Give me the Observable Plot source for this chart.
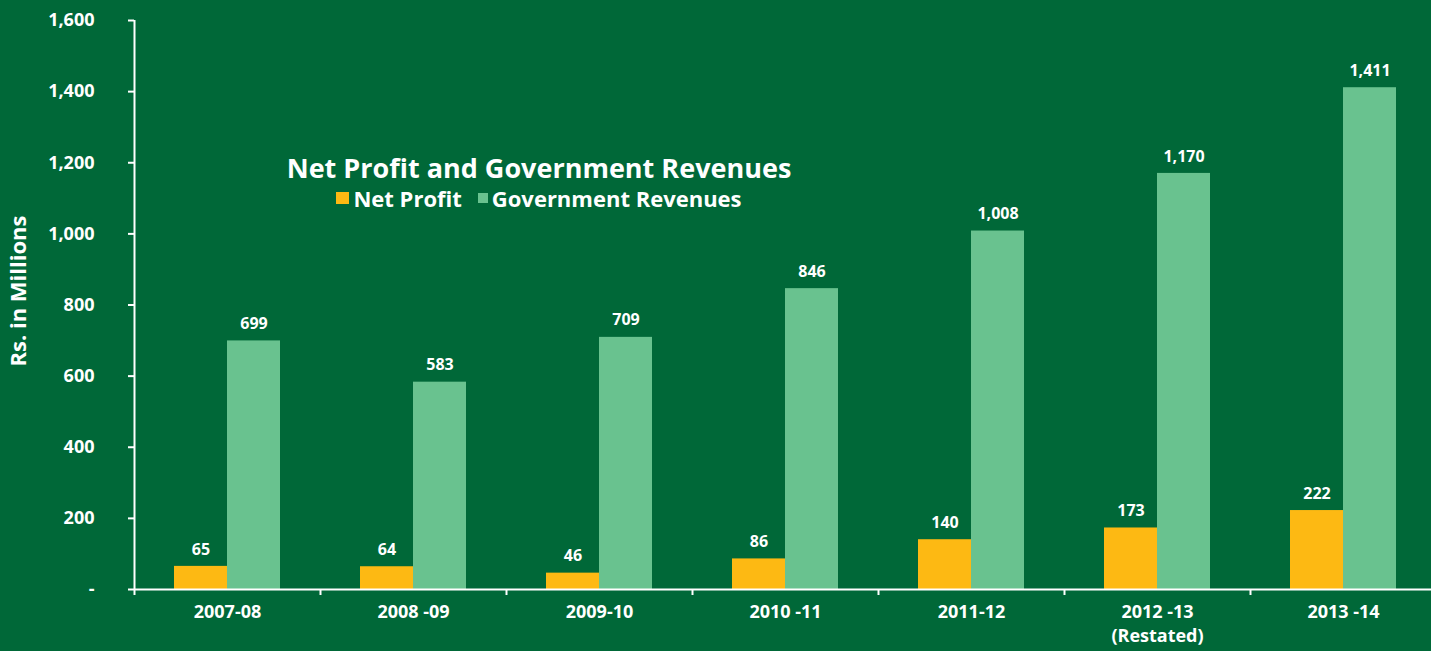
<!DOCTYPE html>
<html>
<head>
<meta charset="utf-8">
<script src="https://cdn.jsdelivr.net/npm/d3@7"></script>
<script src="https://cdn.jsdelivr.net/npm/@observablehq/plot@0.6"></script>
<style>
  html, body { margin: 0; padding: 0; background: #006838; }
  #wrap { position: relative; width: 1431px; height: 651px; overflow: hidden; background: #006838; }
  #title { position: absolute; left: 239px; top: 151px; width: 600px; text-align: center; color: #fff;
           font-family: "Open Sans", sans-serif; font-weight: 700; }
  #title .t { font-size: 27px; line-height: 34px; }
  #title .l { font-size: 22px; line-height: 26px; display: flex; justify-content: center; align-items: center; }
  #title .sw { display: inline-block; margin-right: 4px; }
  svg text { font-weight: 700; }
</style>
</head>
<body>
<div id="wrap">
  <div id="chart"></div>
  <div id="title">
    <div class="t">Net Profit and Government Revenues</div>
    <div class="l">
      <span class="sw" style="width:13px;height:12px;background:#FDB913"></span><span style="margin-right:16px">Net Profit</span>
      <span class="sw" style="width:10px;height:10px;background:#69C28F"></span><span>Government Revenues</span>
    </div>
  </div>
</div>
<script>
const years = ["2007-08", "2008 -09", "2009-10", "2010 -11", "2011-12", "2012 -13", "2013 -14"];
const netProfit = [65, 64, 46, 86, 140, 173, 222];
const govRevenue = [699, 583, 709, 846, 1008, 1170, 1411];
const yTicks = [0, 200, 400, 600, 800, 1000, 1200, 1400, 1600];

const orange = "#FDB913";
const green = "#69C28F";
const rows = years.map((y, i) => ({year: y, np: netProfit[i], gr: govRevenue[i]}));
const fmt = d3.format(",");
const labelFmt = d => d === "2012 -13" ? "2012 -13\n(Restated)" : d;

const chart = Plot.plot({
  width: 1431,
  height: 651,
  marginLeft: 134,
  marginRight: 0,
  marginTop: 20,
  marginBottom: 62,
  style: {background: "transparent", color: "white", fontFamily: "'Open Sans', sans-serif", fontSize: "15px"},
  x: {type: "band", domain: years, range: [134, 1436], padding: 0, axis: null},
  y: {domain: [0, 1600], axis: null},
  marks: [
    Plot.barY(rows, {x: "year", y: "np", fill: orange, insetLeft: 40, insetRight: 93}),
    Plot.barY(rows, {x: "year", y: "gr", fill: green, insetLeft: 93, insetRight: 40}),
    Plot.text(rows, {x: "year", y: "np", text: d => fmt(d.np), dx: -26.5, dy: -17, fill: "white", fontSize: 16, fontWeight: 700}),
    Plot.text(rows, {x: "year", y: "gr", text: d => fmt(d.gr), dx: 26.5, dy: -17, fill: "white", fontSize: 16, fontWeight: 700}),
    Plot.ruleY([0], {stroke: "white", strokeWidth: 2}),
    Plot.ruleX([years[0]], {x: d => d, dx: -93, y1: 0, y2: 1600, stroke: "white", strokeWidth: 2}),
    Plot.axisY(yTicks, {tickSize: 6, tickPadding: 34, tickFormat: d => d === 0 ? "-" : fmt(d), stroke: "white", strokeWidth: 2, fill: "white", fontSize: 18, fontWeight: 700, label: null}),
    Plot.axisX(years, {tickSize: 6, dx: -93, text: null, stroke: "white", strokeWidth: 2, label: null}),
    Plot.axisX(years, {tickSize: 0, tickPadding: 12, tickFormat: labelFmt, fill: "white", fontSize: 18, fontWeight: 700, lineHeight: 1.3, label: null}),
    Plot.text(["Rs. in Millions"], {frameAnchor: "left", textAnchor: "middle", dx: -116, dy: -14, rotate: -90, fill: "white", fontSize: 22, fontWeight: 700})
  ]
});
document.getElementById("chart").appendChild(chart);
</script>
</body>
</html>
